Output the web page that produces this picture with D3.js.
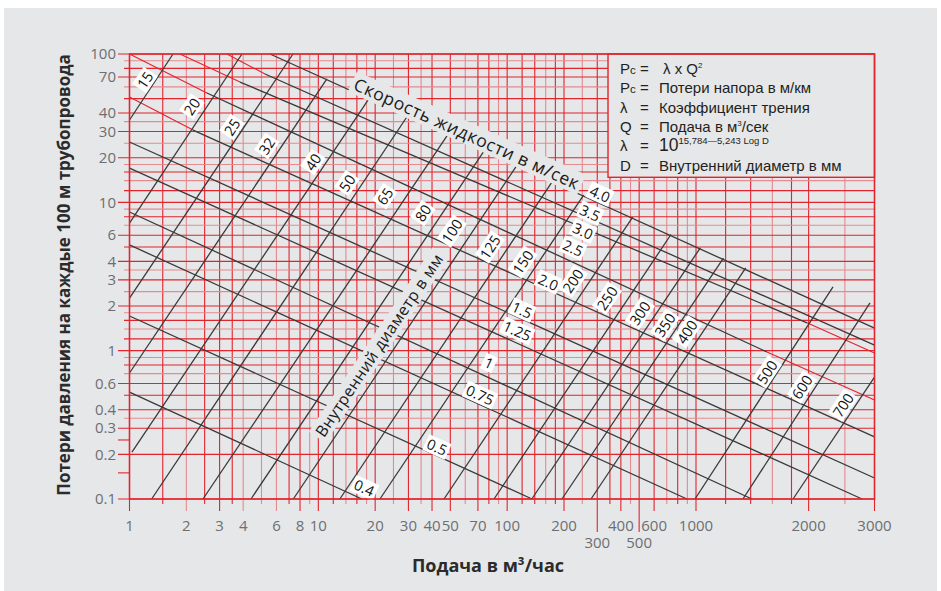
<!DOCTYPE html>
<html><head><meta charset="utf-8">
<script src="https://cdn.jsdelivr.net/npm/d3@7"></script>
<style>body{margin:0;background:#fff}svg{display:block}</style>
</head><body>
<svg id="c" width="941" height="591"></svg>
<script>
// ---------- DATA ----------
const xGridVals = [1,1.5,2,2.5,3,3.5,4,5,6,7,8,9,10,12,14,16,18,20,25,30,35,40,50,60,70,80,90,100,120,140,160,180,200,250,300,350,400,450,500,600,700,800,900,1000,1200,1400,1600,1800,2000,2500,3000];
const yGridVals = [0.1,0.2,0.3,0.35,0.4,0.5,0.6,0.7,0.8,0.9,1,1.2,1.4,1.6,1.8,2,2.5,3,3.5,4,5,6,7,8,9,10,12,14,16,18,20,25,30,35,40,50,60,70,80,90,100];
const yTickOnlyVals = [0.15,0.25];
const xTickLabels = [1,2,3,4,6,8,10,20,30,40,50,70,100,200,300,400,500,600,1000,2000,3000];
const xLowTickLabels = [300,500];
const yTickLabels = [100,70,40,30,20,10,6,4,3,2,1,0.6,0.4,0.3,0.2,0.1];

// pipe inner diameter lines (mm)
const diamNames  = ["15","20","25","32","40","50","65","80","100","125","150","200","250","300","350","400","500","600","700"];
const diamStartQ = [1,1,1,1,1.03,1.31,2.45,4.40,7.37,13.0,21.2,46.3,85.2,135,195,278,988,1335,1817];
const diamStartP = [35.9,7.25,2.26,0.707,0.207,0.1,0.1,0.1,0.1,0.1,0.1,0.1,0.1,0.1,0.1,0.1,0.1,0.1,0.1];
const diamEndQ   = [1.70,3.94,7.34,11.1,18.55,29.9,48.4,75.8,112.8,174,254,462,737,1027,1184,1358,2324,2918,3000];
const diamEndP   = [100,100,100,67.9,50.1,38.8,28.5,22.4,17.8,13.9,11.2,7.96,6.07,4.94,4.21,3.61,2.69,2.10,0.664];
const diamLabelQ = [1.208,2.14,3.49,5.33,9.37,14.2,22.5,35.8,51.0,81.1,121,223,338,505,685,896,1548,1920,2472];
const diamLabelP = [66.8,44.3,32.2,24.0,18.7,13.5,11.0,8.48,6.41,5.00,3.96,2.95,2.26,1.79,1.49,1.34,0.718,0.569,0.430];

// flow velocity lines (m/s)
const velNames   = ["0.4","0.5","0.75","1","1.25","1.5","2.0","2.5","3.0","3.5","4.0"];
const velStartQ  = [1,1,1,1,1,1,2.17,2.57,3.85,5.22,5.55];
const velStartP  = [0.526,1.713,5.16,8.61,17.0,25.5,30.7,54.6,64.7,73.3,100];
const velEndQ    = [17.0,135.4,896,1411,2779,3000,3000,1548,1980,3000,3000];
const velEndP    = [0.1,0.1,0.1,0.1,0.1,0.1385,0.262,0.979,1.54,1.09,1.42];
const velLabelQ  = [17.5,42.5,71.8,80.1,113,120,165,223,252,275,310];
const velLabelP  = [0.119,0.224,0.503,0.826,1.36,1.88,2.90,4.92,6.41,8.48,11.4];
// red extensions of velocity lines
const redStartQ = [1,1,1.85,3.28,1548,1980];
const redStartP = [51.3,100,100,100,0.979,1.54];
const redEndQ   = [2.17,2.57,3.85,5.22,3000,3000];
const redEndP   = [30.7,54.6,64.7,73.3,0.465,0.964];

const legendQ = 342, legendP = 14.75;

// ---------- DRAW ----------
const W = 941, H = 591;
const svg = d3.select("#c");
svg.append("rect").attr("width", W).attr("height", H).attr("fill", "#fff");
svg.append("rect").attr("x", 4).attr("y", 8).attr("width", W - 8).attr("height", H - 8).attr("fill", "#e6e7e9");

const x = d3.scaleLog().domain([1, 1000, 3000]).range([129.5, 696, 874.5]);
const y = d3.scaleLog().domain([0.1, 100]).range([499, 54]);
const RED = "#e2242d", PINK = "#e58a8f";
const pinkX = new Set([2,4,5,6,9,14,18,25,35,60,90,160,250,450,700,900,1600,2500]);
const pinkY = new Set([90,60,35,25,18,14,9,7,3.5,2.5,1.8,1.4,0.9,0.7,0.35]);
const labeledX = new Set(xTickLabels), labeledY = new Set(yTickLabels), lowX = new Set(xLowTickLabels);

const grid = svg.append("g");
xGridVals.forEach(v => {
  const ext = lowX.has(v) ? 532 : labeledX.has(v) ? 511 : 504;
  grid.append("line").attr("x1", x(v)).attr("x2", x(v)).attr("y1", y(100)).attr("y2", ext)
    .attr("stroke", pinkX.has(v) ? PINK : RED).attr("stroke-width", 1.1);
});
yGridVals.forEach(v => {
  const ext = labeledY.has(v) ? 118 : 124;
  grid.append("line").attr("x1", ext).attr("x2", x(3000)).attr("y1", y(v)).attr("y2", y(v))
    .attr("stroke", pinkY.has(v) ? PINK : RED).attr("stroke-width", 1.1);
});
yTickOnlyVals.forEach(v => {
  grid.append("line").attr("x1", 118).attr("x2", x(1)).attr("y1", y(v)).attr("y2", y(v))
    .attr("stroke", RED).attr("stroke-width", 1.1);
});

const lines = svg.append("g");
redStartQ.forEach((q, i) => {
  lines.append("line").attr("x1", x(q)).attr("y1", y(redStartP[i])).attr("x2", x(redEndQ[i])).attr("y2", y(redEndP[i]))
    .attr("stroke", RED).attr("stroke-width", 1.1);
});
diamNames.forEach((d, i) => {
  lines.append("line").attr("x1", x(diamStartQ[i])).attr("y1", y(diamStartP[i])).attr("x2", x(diamEndQ[i])).attr("y2", y(diamEndP[i]))
    .attr("stroke", "#3a3a3a").attr("stroke-width", 1.3);
});
velNames.forEach((d, i) => {
  lines.append("line").attr("x1", x(velStartQ[i])).attr("y1", y(velStartP[i])).attr("x2", x(velEndQ[i])).attr("y2", y(velEndP[i]))
    .attr("stroke", "#3a3a3a").attr("stroke-width", 1.3);
});

function angleOf(q1, p1, q2, p2) {
  return Math.atan2(y(p2) - y(p1), x(q2) - x(q1)) * 180 / Math.PI;
}
const velAngle = angleOf(velStartQ[5], velStartP[5], velEndQ[5], velEndP[5]);
const diamAngle = angleOf(diamStartQ[10], diamStartP[10], diamEndQ[10], diamEndP[10]);

function boxedText(cx, cy, ang, txt, size, fill, bg, padX, padY, spacing) {
  const g = svg.append("g").attr("transform", `translate(${cx},${cy}) rotate(${ang})`);
  const r = g.append("rect").attr("fill", bg);
  const t = g.append("text").attr("text-anchor", "middle").attr("dominant-baseline", "central")
    .attr("font-family", "'Open Sans', sans-serif").attr("font-size", size).attr("fill", fill)
    .attr("letter-spacing", spacing || 0).text(txt);
  const b = t.node().getBBox();
  r.attr("x", b.x - padX).attr("y", b.y - padY).attr("width", b.width + 2 * padX).attr("height", b.height + 2 * padY);
  return g;
}

boxedText(x(61.3), y(29.3), velAngle, "Скорость жидкости в м/сек", 17.5, "#1a1a1a", "#e6e7e9", 3, -1, 0.6);
boxedText(x(20.96), y(1.09), diamAngle, "Внутренний диаметр в мм", 16, "#1a1a1a", "#e6e7e9", 3, -1, 0.4);

diamNames.forEach((d, i) => boxedText(x(diamLabelQ[i]), y(diamLabelP[i]), diamAngle, d, 14.5, "#111", "#fff", 2, -1));
velNames.forEach((d, i) => boxedText(x(velLabelQ[i]), y(velLabelP[i]), velAngle, d, 14.5, "#111", "#fff", 2, -1));

// legend box
const lg = svg.append("g");
lg.append("rect").attr("x", x(legendQ)).attr("y", y(100)).attr("width", x(3000) - x(legendQ)).attr("height", y(legendP) - y(100))
  .attr("fill", "#e6e7e9").attr("stroke", RED).attr("stroke-width", 1.4);
const lgFont = "'Liberation Sans', Arial, sans-serif";
const lx0 = x(legendQ) + 12, lxEq = x(legendQ) + 32, lxT = x(legendQ) + 51;
const lb = [73.5, 93, 112.5, 132, 151, 170.5];
function lgText(xx, yy) {
  return lg.append("text").attr("x", xx).attr("y", yy).attr("font-family", lgFont).attr("font-size", 15).attr("fill", "#231f20");
}
function pc(yy) { const t = lgText(lx0, yy); t.append("tspan").text("P"); t.append("tspan").attr("font-size", 11.5).text("c"); }
pc(lb[0]); lgText(lxEq, lb[0]).text("=");
{ const t = lgText(lxT + 4, lb[0]); t.append("tspan").text("λ x Q"); t.append("tspan").attr("font-size", 8).attr("dy", -6).text("2"); }
pc(lb[1]); lgText(lxEq, lb[1]).text("="); lgText(lxT, lb[1]).text("Потери напора в м/км");
lgText(lx0, lb[2]).text("λ"); lgText(lxEq, lb[2]).text("="); lgText(lxT, lb[2]).text("Коэффициент трения");
lgText(lx0, lb[3]).text("Q"); lgText(lxEq, lb[3]).text("=");
{ const t = lgText(lxT, lb[3]); t.append("tspan").text("Подача в м"); t.append("tspan").attr("font-size", 8).attr("dy", -6).text("3"); t.append("tspan").attr("dy", 6).text("/сек"); }
lgText(lx0, lb[4]).text("λ"); lgText(lxEq, lb[4]).text("=");
{ const t = lgText(lxT, lb[4]); t.append("tspan").attr("font-size", 17.5).text("10"); t.append("tspan").attr("font-size", 9.5).attr("dy", -7).text("15,784—5,243 Log D"); }
lgText(lx0, lb[5]).text("D"); lgText(lxEq, lb[5]).text("="); lgText(lxT, lb[5]).text("Внутренний диаметр в мм");

// frame
svg.append("rect").attr("x", x(1)).attr("y", y(100)).attr("width", x(3000) - x(1)).attr("height", y(0.1) - y(100))
  .attr("fill", "none").attr("stroke", RED).attr("stroke-width", 1.5);

// tick labels
const tickFont = "'Open Sans', sans-serif";
xTickLabels.forEach(v => {
  svg.append("text").attr("x", x(v)).attr("y", lowX.has(v) ? 548 : 531).attr("text-anchor", "middle")
    .attr("font-family", tickFont).attr("font-size", 15).attr("fill", "#6d6e71").text(v);
});
yTickLabels.forEach(v => {
  svg.append("text").attr("x", 116).attr("y", y(v)).attr("dy", "0.35em").attr("text-anchor", "end")
    .attr("font-family", tickFont).attr("font-size", 15).attr("fill", "#6d6e71").text(v);
});

// axis titles
svg.append("text").attr("x", 488).attr("y", 572).attr("text-anchor", "middle")
  .attr("font-family", tickFont).attr("font-weight", 700).attr("font-size", 18).attr("fill", "#2b2b2b").text("Подача в м³/час");
svg.append("text").attr("transform", "translate(70,275) rotate(-90)").attr("text-anchor", "middle")
  .attr("font-family", tickFont).attr("font-weight", 700).attr("font-size", 17).attr("fill", "#2b2b2b")
  .text("Потери давления на каждые 100 м трубопровода");
</script>
</body></html>
